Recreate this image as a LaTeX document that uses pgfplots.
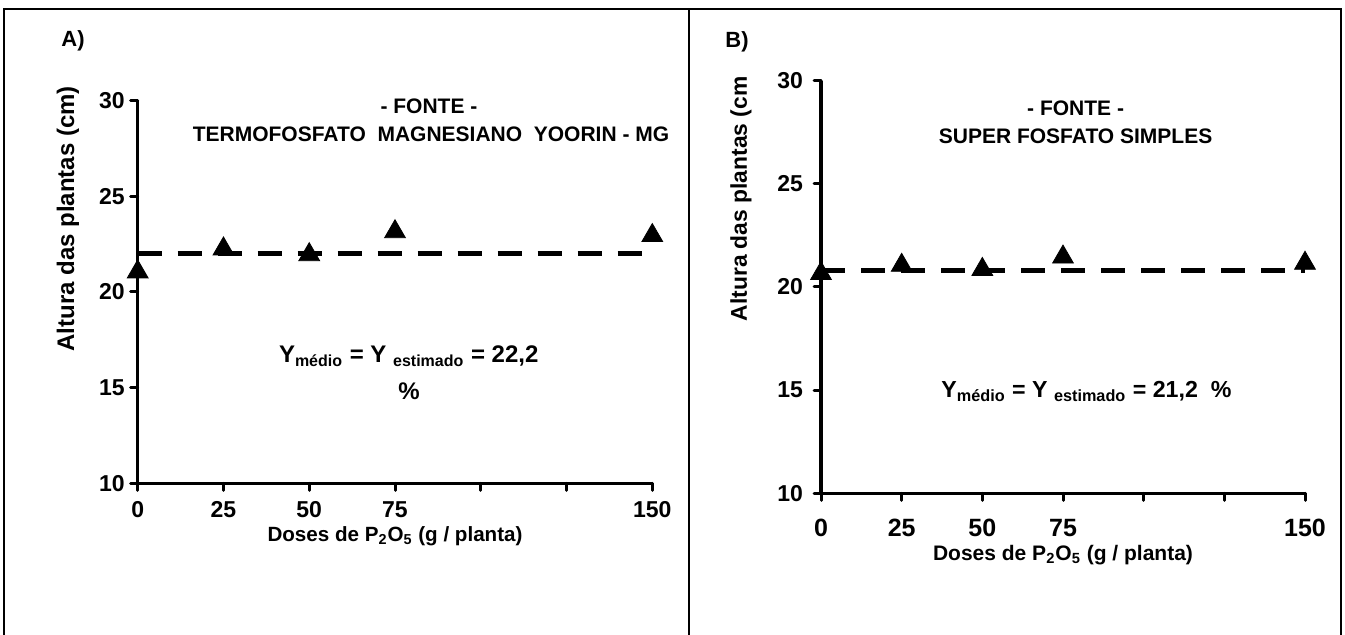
\documentclass[border=0pt]{standalone}
\usepackage{fontspec}
\setmainfont{Liberation Sans}
\usepackage{pgfplots}
\pgfplotsset{compat=1.18}

\newcommand{\fs}[1]{\fontsize{#1}{#1}\selectfont\bfseries}

\pgfplotsset{
  painel/.style={
    scale only axis,
    anchor=south west,
    xmin=0, xmax=150, ymin=10, ymax=30,
    axis lines=left,
    axis line style={-, line width=1.6pt},
    xtick={0,25,50,75,100,125,150},
    xticklabels={0,25,50,75,,,150},
    ytick={10,15,20,25,30},
    tick align=outside,
    major tick length=3.5pt,
    major tick style={line width=1.5pt, line cap=round, black},
    /pgf/number format/assume math mode=true,
    clip=false,
  },
  media/.style={black, line width=2.5pt, dash pattern=on 12pt off 8pt},
  pontos/.style={only marks, mark=triangle*, mark size=6pt, black},
}

\begin{document}
\begin{tikzpicture}
\useasboundingbox (0,0) rectangle (672.5pt,317.5pt);

% moldura
\draw[line width=1pt] (2pt,0) -- (2pt,313pt) -- (670.5pt,313pt) -- (670.5pt,0);
\draw[line width=1pt] (344.5pt,0) -- (344.5pt,313pt);

% ---------- A) ----------
\begin{axis}[painel,
  at={(68.85pt,75.85pt)}, width=257.3pt, height=191.3pt,
  ticklabel style={font=\fs{11.5}},
  xticklabel style={yshift=-2pt},
  yticklabel style={xshift=0.5pt},
  xlabel={Doses de P\textsubscript{2}O\textsubscript{5} (g / planta)},
  xlabel style={font=\fs{10.3}, at={(axis description cs:0.5,0)}, anchor=center, yshift=-26.5pt},
  ylabel={Altura das plantas (cm)},
  ylabel style={font=\fs{12}, at={(axis description cs:-0.1354,0.6916)}, anchor=center},
]
\addplot[media] coordinates {(0,22.0) (150,22.0)};
\addplot[pontos] coordinates {(0,21.05) (25,22.25) (50,21.95) (75,23.15) (150,22.95)};
\end{axis}

\node[font=\fs{11}] at (36.5pt,297pt) {A)};
\node[font=\fs{10.5}] at (214.5pt,264.3pt) {- FONTE -};
\node[font=\fs{10.5}] at (215.5pt,250.6pt) {TERMOFOSFATO\ \ MAGNESIANO\ \ YOORIN - MG};
\node[font=\fs{12}, anchor=base west, inner sep=0pt] at (139.3pt,136pt)
  {Y\textsubscript{médio} = Y \textsubscript{estimado} = 22,2};
\node[font=\fs{12}, anchor=base, inner sep=0pt] at (204.5pt,117.8pt) {\%};

% ---------- B) ----------
\begin{scope}
\clip (345.5pt,0) rectangle (672.5pt,279.5pt) (379pt,0) rectangle (672.5pt,317.5pt);
\begin{axis}[painel,
  at={(410.5pt,70.85pt)}, width=242pt, height=206.3pt,
  xticklabel style={font=\fs{12.5}, yshift=-6pt},
  yticklabel style={font=\fs{11.5}, xshift=-2pt},
  xlabel={Doses de P\textsubscript{2}O\textsubscript{5} (g / planta)},
  xlabel style={font=\fs{10.5}, at={(axis description cs:0.5,0)}, anchor=center, yshift=-30.8pt},
  ylabel={Altura das plantas (cm)},
  ylabel style={font=\fs{11.4}, at={(axis description cs:-0.1653,0.40)}, anchor=west},
]
\addplot[media] coordinates {(0,20.8) (150,20.8)};
\addplot[pontos] coordinates {(0,20.65) (25,21.05) (50,20.85) (75,21.45) (150,21.15)};
\end{axis}
\end{scope}

\node[font=\fs{11}] at (368.5pt,296.7pt) {B)};
\node[font=\fs{10.5}] at (537.8pt,263.45pt) {- FONTE -};
\node[font=\fs{10.5}] at (537.8pt,249.3pt) {SUPER FOSFATO SIMPLES};
\node[font=\fs{11.6}, anchor=base west, inner sep=0pt] at (470.5pt,118.75pt)
  {Y\textsubscript{médio} = Y \textsubscript{estimado} = 21,2\ \ \%};
\end{tikzpicture}
\end{document}
